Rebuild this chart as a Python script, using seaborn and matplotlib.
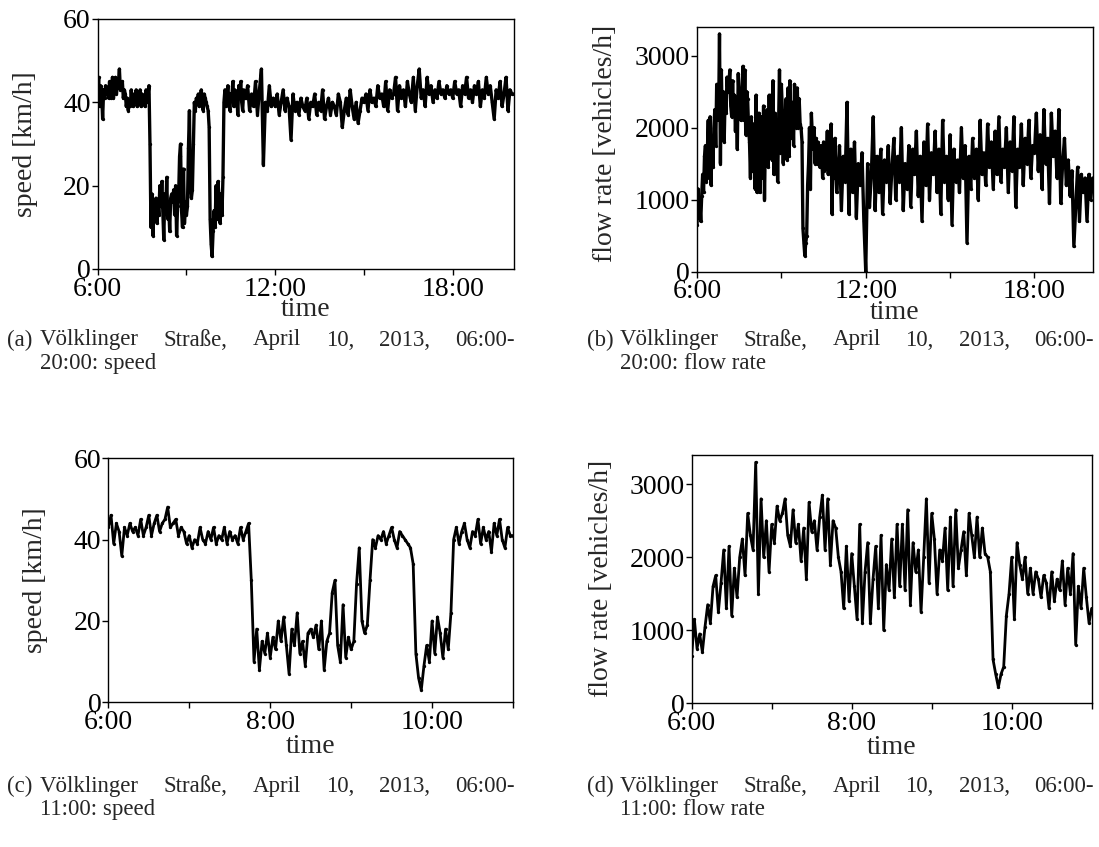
import numpy as np
import pandas as pd
import matplotlib
matplotlib.use("Agg")
import matplotlib.pyplot as plt
from matplotlib.ticker import FixedLocator, FuncFormatter
import seaborn as sns

# ---------------- data ----------------
# speed [km/h], 06:00-10:58 every 2 minutes
speed_morning = [
    43, 46, 39, 44, 42, 36, 43, 41, 44, 42, 43, 41, 45, 41, 43,
    46, 41, 44, 46, 42, 44, 45, 48, 43, 44, 45, 41, 43, 42, 39,
    41, 38, 40, 39, 43, 40, 39, 42, 40, 43, 39, 41, 40, 43, 39, 42, 40, 41, 39, 43, 40, 42, 44,
    30, 10, 18, 8, 15, 12, 17, 11, 16, 13, 20, 15, 21, 14, 7, 18, 14, 22, 12, 15,
    9, 17, 18, 16, 19, 13, 20, 8, 15, 17,
    27, 30, 14, 10, 24, 11, 16, 13, 15, 29, 38, 20, 17, 19, 30,
    40, 38, 41, 40, 42, 39, 41, 43, 40, 38, 42, 41, 40, 39, 38,
    34, 12, 6, 3, 9, 14, 10, 20, 12, 21, 17, 11, 18, 13, 22,
    40, 43, 39, 42, 44, 40, 38, 42, 41, 45, 39, 43, 40, 42, 37, 44, 41, 45, 40, 38, 43, 41,
]
# speed [km/h], 11:00-20:04 every 4 minutes
speed_rest = [
    41, 44, 38, 42, 39, 45, 37, 43, 48, 25, 40, 38, 44, 39, 41,
    39, 42, 37, 40, 43, 38, 41, 39, 31, 42, 38, 40, 37, 41, 39,
    38, 41, 36, 40, 39, 42, 37, 40, 38, 43, 36, 39, 41, 37, 40,
    39, 37, 42, 40, 34, 38, 41, 37, 43, 39, 36, 40, 35, 38, 41,
    40, 42, 38, 43, 40, 41, 39, 44, 41, 42, 39, 45, 38, 43, 41,
    42, 46, 38, 44, 41, 43, 39, 45, 42, 40, 46, 38, 44, 48, 41,
    43, 39, 46, 42, 44, 40, 43, 41, 45, 42, 43, 41, 44, 42, 43,
    41, 45, 42, 43, 39, 44, 42, 46, 41, 43, 40, 44, 42, 45, 39,
    43, 41, 46, 42, 44, 40, 36, 43, 41, 45, 39, 42, 46, 38, 43, 42, 42,
]
# flow rate [vehicles/h], 06:00-10:58 every 2 minutes
flow_morning = [
    650, 1150, 750, 950, 700,
    1050, 1350, 1100, 1600, 1750,
    1250, 1650, 2100, 1300, 2150, 1200, 1850, 1450,
    2000, 2250, 1750, 2600, 2300, 2100,
    3300,
    1500, 2800, 2000, 2500, 1800,
    2450, 2200, 2700, 2500, 2600, 2800, 2300, 2150, 2650, 2200, 2450, 1950, 2400, 1700, 2750,
    2350, 2500, 2100, 2550, 2850, 2100, 2800, 1900, 2500, 2400,
    2000, 1800, 1300, 2150, 1400, 2050, 1600, 1150, 2450, 1100,
    1800, 2200, 1100, 1700, 2150, 1300, 2300, 1000, 1900, 1550,
    2250, 1450, 2450, 1600, 2450, 1550, 2650, 1350, 2200, 1800, 2100, 1250, 2000,
    2800, 1650, 2600, 2250, 1500, 2100, 1950, 2400, 1550, 2550, 1600, 2650,
    1850, 2100, 2350, 1750, 2600, 2300, 2000, 2550, 2000, 2400, 2050, 2000, 1800,
    600, 400, 220, 400, 500, 1200, 1500,
    2000, 1150, 2200, 1900, 1700, 2000, 1500, 1850, 1500, 1800, 1700, 1450, 1750, 1650, 1300,
    1800, 1400, 1700, 1550, 1950, 1350, 1850, 1500, 2050, 800, 1600, 1300, 1850, 1450, 1100,
]
# flow rate [vehicles/h], 11:00-20:04 every 4 minutes
flow_rest = [
    1300, 1750, 850, 1600, 1250, 2350, 800, 1700, 1100, 1800, 750, 1500, 1200, 1650, 700,
    0, 1500, 900, 1350, 2150, 850, 1600, 1100, 1700, 800, 1550, 1250, 1750, 950, 1450,
    1850, 1000, 1600, 1250, 2000, 850, 1500, 1150, 1750, 900, 1700, 1350, 1950, 1050, 1600,
    700, 1800, 1200, 2050, 1000, 1650, 1350, 1950, 1100, 1700, 800, 2100, 1250, 1600, 1000,
    1900, 650, 1700, 1250, 1550, 1100, 2000, 1300, 1750, 400, 1600, 1150, 1850, 1300, 1700,
    1000, 2100, 1350, 1650, 1200, 2050, 1450, 1800, 1150, 1950, 1350, 2150, 1250, 1700, 1450,
    2000, 1100, 1800, 1400, 2150, 900, 1700, 1450, 2050, 1200, 1850, 1500, 2100, 1300, 1750,
    1650, 2200, 1400, 1900, 1150, 2250, 1500, 1850, 950, 2200, 1600, 1950, 1300, 2250, 950,
    1500, 1850, 1200, 1550, 1050, 1400, 350, 900, 1450, 700, 1350, 1100, 1300, 700, 1350, 1000, 1300,
]

speed_ticks_y = [0, 20, 40, 60]
flow_ticks_y = [0, 1000, 2000, 3000]
day_ticks = [6, 12, 18]
day_minor = [9, 15]
morning_ticks = [6, 8, 10]
morning_minor = [7, 9, 11]

captions = [
    ("(a)", ["Völklinger", "Straße,", "April", "10,", "2013,", "06:00-"], "20:00: speed"),
    ("(b)", ["Völklinger", "Straße,", "April", "10,", "2013,", "06:00-"], "20:00: flow rate"),
    ("(c)", ["Völklinger", "Straße,", "April", "10,", "2013,", "06:00-"], "11:00: speed"),
    ("(d)", ["Völklinger", "Straße,", "April", "10,", "2013,", "06:00-"], "11:00: flow rate"),
]

# ---------------- build frames ----------------
t_morning = 6 + 2 * np.arange(len(speed_morning)) / 60.0
t_rest = 11 + 4 * np.arange(len(speed_rest)) / 60.0
tf_morning = 6 + 2 * np.arange(len(flow_morning)) / 60.0
tf_rest = 11 + 4 * np.arange(len(flow_rest)) / 60.0

df_speed = pd.DataFrame({"time": np.concatenate([t_morning, t_rest]),
                         "value": np.concatenate([speed_morning, speed_rest])})
df_flow = pd.DataFrame({"time": np.concatenate([tf_morning, tf_rest]),
                        "value": np.concatenate([flow_morning, flow_rest])})

# ---------------- style ----------------
sns.set_style("ticks")
plt.rcParams["font.family"] = ["Liberation Serif", "DejaVu Serif"]

W, H = 1099, 847
fig = plt.figure(figsize=(W / 100, H / 100), dpi=100)


def ax_px(l, r, t, b):
    return fig.add_axes([l / W, 1 - b / H, (r - l) / W, (b - t) / H])


ax_a = ax_px(97.7, 514, 19, 269)
ax_b = ax_px(697, 1092.7, 26.7, 271.7)
ax_c = ax_px(108.3, 513, 458.3, 702.3)
ax_d = ax_px(691.7, 1091.7, 455, 703.3)

hfmt = FuncFormatter(lambda v, p: f"{int(round(v))}:00")

panels = [
    (ax_a, df_speed, (6, 20.07), (0, 60), speed_ticks_y, day_ticks, day_minor, "speed [km/h]", 2.4, (38, 144), -3),
    (ax_b, df_flow, (6, 20.07), (0, 3400), flow_ticks_y, day_ticks, day_minor, "flow rate [vehicles/h]", 2.4, (618, 143), -3),
    (ax_c, df_speed[df_speed.time <= 11.001], (6, 11), (0, 60), speed_ticks_y, morning_ticks, morning_minor, "speed [km/h]", 2.0, (48, 580), -1),
    (ax_d, df_flow[df_flow.time <= 11.001], (6, 11), (0, 3400), flow_ticks_y, morning_ticks, morning_minor, "flow rate [vehicles/h]", 2.0, (614, 578), -1),
]

for ax, df, xl, yl, yt, xt, xm, ylab, lw, ylab_pos, xlpad in panels:
    sns.lineplot(data=df, x="time", y="value", ax=ax, color="black", linewidth=lw,
                 estimator=None, marker="o", markersize=2.4, markeredgewidth=0)
    ax.set_xlim(*xl)
    ax.set_ylim(*yl)
    ax.set_yticks(yt)
    ax.xaxis.set_major_locator(FixedLocator(xt))
    ax.xaxis.set_minor_locator(FixedLocator(xm))
    ax.xaxis.set_major_formatter(hfmt)
    ax.tick_params(axis="both", which="both", direction="out", length=4, width=1,
                   labelsize=20, colors="black")
    ax.tick_params(axis="y", pad=1)
    ax.tick_params(axis="x", pad=1.5)
    ax.set_xlabel("time", fontsize=20, labelpad=xlpad)
    ax.set_ylabel(ylab, fontsize=20)
    # place y label (right edge of the rotated text) at the reference pixel position
    pos = ax.get_position()
    lx = (ylab_pos[0] / W - pos.x0) / pos.width
    ly = ((1 - ylab_pos[1] / H) - pos.y0) / pos.height
    ax.yaxis.set_label_coords(lx, ly)
    for s in ax.spines.values():
        s.set_visible(True)
        s.set_linewidth(1.0)
        s.set_color("black")
    ax.grid(False)

# ---------------- justified captions ----------------
renderer = fig.canvas.get_renderer()
cap_size = 16.5
cap_layout = [
    (7, 40, 515, 340, 363),
    (587, 620, 1094, 340, 363),
    (7, 40, 515, 786, 809),
    (587, 620, 1094, 786, 809),
]
for (lab, words, line2), (xl, x0, x1, y1, y2) in zip(captions, cap_layout):
    fig.text(xl / W, 1 - y1 / H, lab, fontsize=cap_size, va="center", ha="left")
    texts = [fig.text(0, 0, w, fontsize=cap_size, va="center", ha="left") for w in words]
    widths = [t.get_window_extent(renderer).width for t in texts]
    gap = (x1 - x0 - sum(widths)) / (len(words) - 1)
    x = x0
    for t, w in zip(texts, widths):
        t.set_position((x / W, 1 - y1 / H))
        x += w + gap
    fig.text(x0 / W, 1 - y2 / H, line2, fontsize=cap_size, va="center", ha="left")

fig.savefig("out.png", dpi=100)
